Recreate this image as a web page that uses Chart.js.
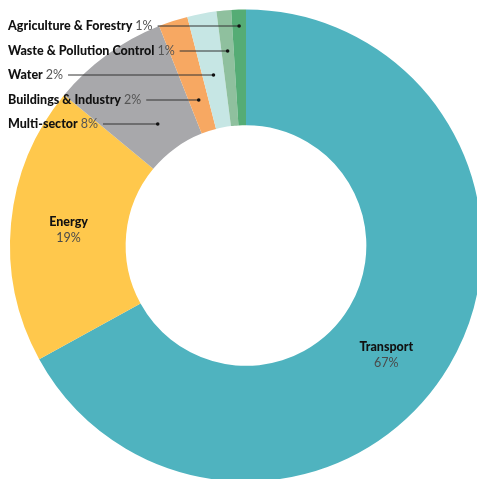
<!DOCTYPE html>
<html>
<head>
<meta charset="utf-8">
<script src="https://cdn.jsdelivr.net/npm/chart.js@4"></script>
<style>
  html, body { margin: 0; padding: 0; background: #fff; overflow: hidden; }
  #wrap { position: relative; width: 492px; height: 491px; }
</style>
</head>
<body>
<div id="wrap"><canvas id="c"></canvas></div>
<script>
const sectors = ['Transport', 'Energy', 'Multi-sector', 'Buildings & Industry', 'Water', 'Waste & Pollution Control', 'Agriculture & Forestry'];
const shares = [67, 19, 8, 2, 2, 1, 1];
const colors = ['#4fb3bf', '#ffc84c', '#a8a8ab', '#f7a862', '#c6e6e4', '#8fc09e', '#55ac75'];

// small slices get a left-side row with a leader line, big ones sit inside the ring
const rowY = { 'Agriculture & Forestry': 26, 'Waste & Pollution Control': 51, 'Water': 75, 'Buildings & Industry': 100, 'Multi-sector': 124 };
const inside = { 'Energy': [0, 1], 'Transport': [-13, 19] };

const labels = {
  id: 'labels',
  afterDraw(chart) {
    const ctx = chart.ctx;
    const arcs = chart.getDatasetMeta(0).data;
    ctx.save();
    arcs.forEach((arc, i) => {
      const name = sectors[i];
      const pct = shares[i] + '%';
      const mid = (arc.startAngle + arc.endAngle) / 2;
      if (rowY[name] !== undefined) {
        const y = rowY[name];
        ctx.textAlign = 'left';
        ctx.textBaseline = 'middle';
        ctx.font = '900 12.5px Lato';
        ctx.fillStyle = '#111';
        ctx.fillText(name, 8, y);
        const w = ctx.measureText(name + ' ').width;
        ctx.font = '400 12.5px Lato';
        ctx.fillStyle = '#555';
        ctx.fillText(pct, 8 + w, y);
        const x0 = 8 + w + ctx.measureText(pct).width + 5;
        // end of the leader: where the row meets the slice's middle ray
        const dy = y - arc.y;
        const x1 = arc.x + dy / Math.tan(mid);
        ctx.strokeStyle = '#333';
        ctx.lineWidth = 1;
        ctx.beginPath();
        ctx.moveTo(x0, y);
        ctx.lineTo(x1, y);
        ctx.stroke();
        ctx.fillStyle = '#111';
        ctx.beginPath();
        ctx.arc(x1, y, 1.8, 0, Math.PI * 2);
        ctx.fill();
      } else if (inside[name]) {
        const r = (arc.innerRadius + arc.outerRadius) / 2;
        const cx = arc.x + Math.cos(mid) * r + inside[name][0];
        const cy = arc.y + Math.sin(mid) * r + inside[name][1];
        ctx.textAlign = 'center';
        ctx.textBaseline = 'middle';
        ctx.font = '900 12.5px Lato';
        ctx.fillStyle = '#111';
        ctx.fillText(name, cx, cy - 8);
        ctx.font = '400 12.5px Lato';
        ctx.fillStyle = '#4a4a4a';
        ctx.fillText(pct, cx, cy + 8);
      }
    });
    ctx.restore();
  }
};

new Chart(document.getElementById('c'), {
  type: 'doughnut',
  data: {
    labels: sectors,
    datasets: [{
      data: shares,
      backgroundColor: colors,
      borderWidth: 0
    }]
  },
  options: {
    responsive: true,
    maintainAspectRatio: false,
    animation: false,
    cutout: '51%',
    layout: { padding: { left: 10, top: 9, right: 10, bottom: 9 } },
    plugins: {
      legend: { display: false },
      tooltip: { enabled: false }
    }
  },
  plugins: [labels]
});
</script>
</body>
</html>
